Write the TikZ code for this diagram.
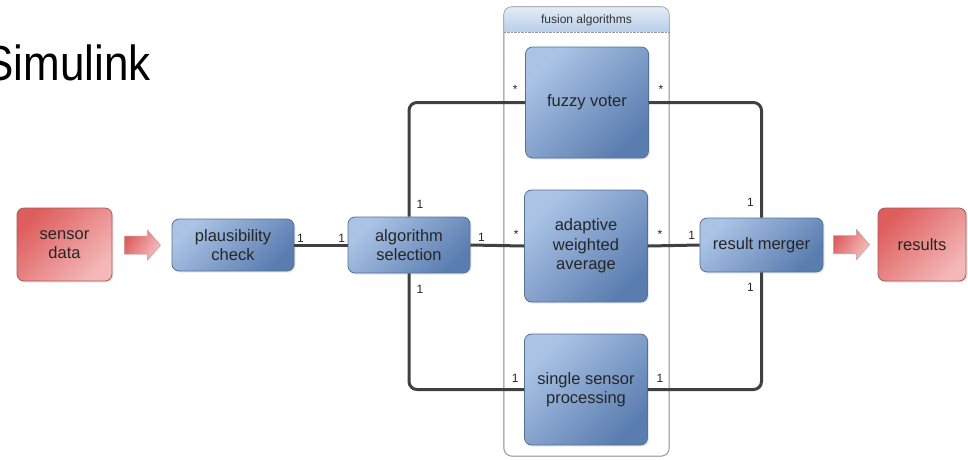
\documentclass[tikz,border=0pt]{standalone}
\usepackage{fontspec}
\setmainfont{Liberation Sans}
\usepackage{tikz}
\usetikzlibrary{%
  arrows.meta,%
  shadows,%
  calc
}
\definecolor{boxblue}{HTML}{ABC4E6}
\definecolor{boxbluedark}{HTML}{5A7DB0}
\definecolor{boxblueline}{HTML}{56708F}
\definecolor{boxred}{HTML}{DE5E5E}
\definecolor{boxredlight}{HTML}{F4B8B8}
\definecolor{boxredline}{HTML}{A65858}
\definecolor{linkgray}{HTML}{404040}
\definecolor{groupline}{HTML}{9A9A9A}
\definecolor{headblue}{HTML}{E3ECF7}
\definecolor{headbluedark}{HTML}{B9CEE9}
\tikzset{
  block/.style={rectangle, rounded corners=7pt, draw=boxblueline, line width=0.8pt,
    top color=boxblue, bottom color=boxbluedark, shading angle=45,
    drop shadow={opacity=0.18, shadow xshift=1.5pt, shadow yshift=-1.5pt},
    inner sep=0pt, align=center, text=black!85,
    font=\fontsize{16.5}{19.5}\selectfont},
  endbox/.style={block, draw=boxredline,
    top color=boxred, bottom color=boxredlight, shading angle=45},
  fatarrow/.style={draw=boxredline!60, line width=0.5pt,
    top color=boxred, bottom color=boxredlight!90, shading angle=60,
    drop shadow={opacity=0.15, shadow xshift=1pt, shadow yshift=-1pt}},
  link/.style={draw=linkgray, line width=3pt, rounded corners=8pt},
  mult/.style={font=\fontsize{12}{12}\selectfont, text=black!85, inner sep=0pt},
  group/.style={rectangle, rounded corners=8pt, draw=groupline, line width=0.6pt,
    fill=white, inner sep=0pt}
}
\begin{document}
\begin{tikzpicture}[x=1pt,y=-1pt]
        \useasboundingbox (0,0) rectangle (968,459);
        \node[anchor=base west, font=\fontsize{44}{44}\selectfont] (title) at (-19,80)
          {\scalebox{1}[1.12]{Simulink}};
        % container of the fusion algorithms
        \node[group, minimum width=165pt, minimum height=449pt] (fusion) at (586.5,231.5) {};
        \begin{scope}
          \clip[rounded corners=8pt] (fusion.south west) rectangle (fusion.north east);
          \shade[top color=headblue, bottom color=headbluedark]
            (fusion.north west) rectangle ([yshift=-25pt]fusion.north east);
        \end{scope}
        \draw[groupline, densely dotted] ([yshift=-25pt]fusion.north west) -- ([yshift=-25pt]fusion.north east);
        \draw[groupline, line width=0.6pt, rounded corners=8pt] (fusion.south west) rectangle (fusion.north east);
        \node[font=\fontsize{12}{12}\selectfont, text=black!80] (fusionlabel) at (586.5,20) {fusion algorithms};

        \node[endbox, minimum width=95pt, minimum height=73pt] (sensor) at (64.5,244.5) {sensor\\data};
        \node[block, minimum width=122pt, minimum height=52pt] (plaus) at (233,245) {plausibility\\check};
        \node[block, minimum width=122pt, minimum height=56pt] (alg) at (409,245) {algorithm\\selection};
        \node[block, minimum width=123pt, minimum height=111pt] (fuzzy) at (587,102.5) {fuzzy voter};
        \node[block, minimum width=123pt, minimum height=112pt] (adaptive) at (586,246) {adaptive\\weighted\\average};
        \node[block, minimum width=123pt, minimum height=111pt] (single) at (586,389.5) {single sensor\\processing};
        \node[block, minimum width=123pt, minimum height=54pt] (result) at (761.5,245) {result merger};
        \node[endbox, minimum width=88pt, minimum height=73pt] (results) at (922,244.5) {results};

        % block arrows in and out
        \path[fatarrow] ([shift={(12,-8.5)}]sensor.east) -- ++(23,0) -- ++(0,-6)
          -- ++(13,15) -- ++(-13,15) -- ++(0,-6) -- ++(-23,0) -- cycle;
        \path[fatarrow] ([shift={(10,-9.5)}]result.east) -- ++(23,0) -- ++(0,-6)
          -- ++(13,15) -- ++(-13,15) -- ++(0,-6) -- ++(-23,0) -- cycle;

        \draw[link] (plaus.east) -- (alg.west);
        \draw[link] (alg.east) -- (adaptive.west);
        \draw[link] (adaptive.east) -- (result.west);
        \draw[link] (alg.north) |- (fuzzy.west);
        \draw[link] (alg.south) |- (single.west);
        \draw[link] (fuzzy.east) -| (result.north);
        \draw[link] (single.east) -| (result.south);

        \node[mult] (m1) at ([shift={(6,-7)}]plaus.east) {1};
        \node[mult] (m2) at ([shift={(-6,-7)}]alg.west) {1};
        \node[mult] (m3) at ([shift={(11,-12)}]alg.north) {1};
        \node[mult] (m4) at ([shift={(11,16)}]alg.south) {1};
        \node[mult] (m5) at ([shift={(11,-8)}]alg.east) {1};
        \node[mult] (m6) at ([shift={(-10,-13)}]fuzzy.west) {*};
        \node[mult] (m7) at ([shift={(12,-13)}]fuzzy.east) {*};
        \node[mult] (m8) at ([shift={(-8,-12)}]adaptive.west) {*};
        \node[mult] (m9) at ([shift={(12,-12)}]adaptive.east) {*};
        \node[mult] (m10) at ([shift={(-9,-11)}]single.west) {1};
        \node[mult] (m11) at ([shift={(12,-11)}]single.east) {1};
        \node[mult] (m12) at ([shift={(-8,-10)}]result.west) {1};
        \node[mult] (m13) at ([shift={(-11,-15)}]result.north) {1};
        \node[mult] (m14) at ([shift={(-11,15)}]result.south) {1};
      \end{tikzpicture}
\end{document}
